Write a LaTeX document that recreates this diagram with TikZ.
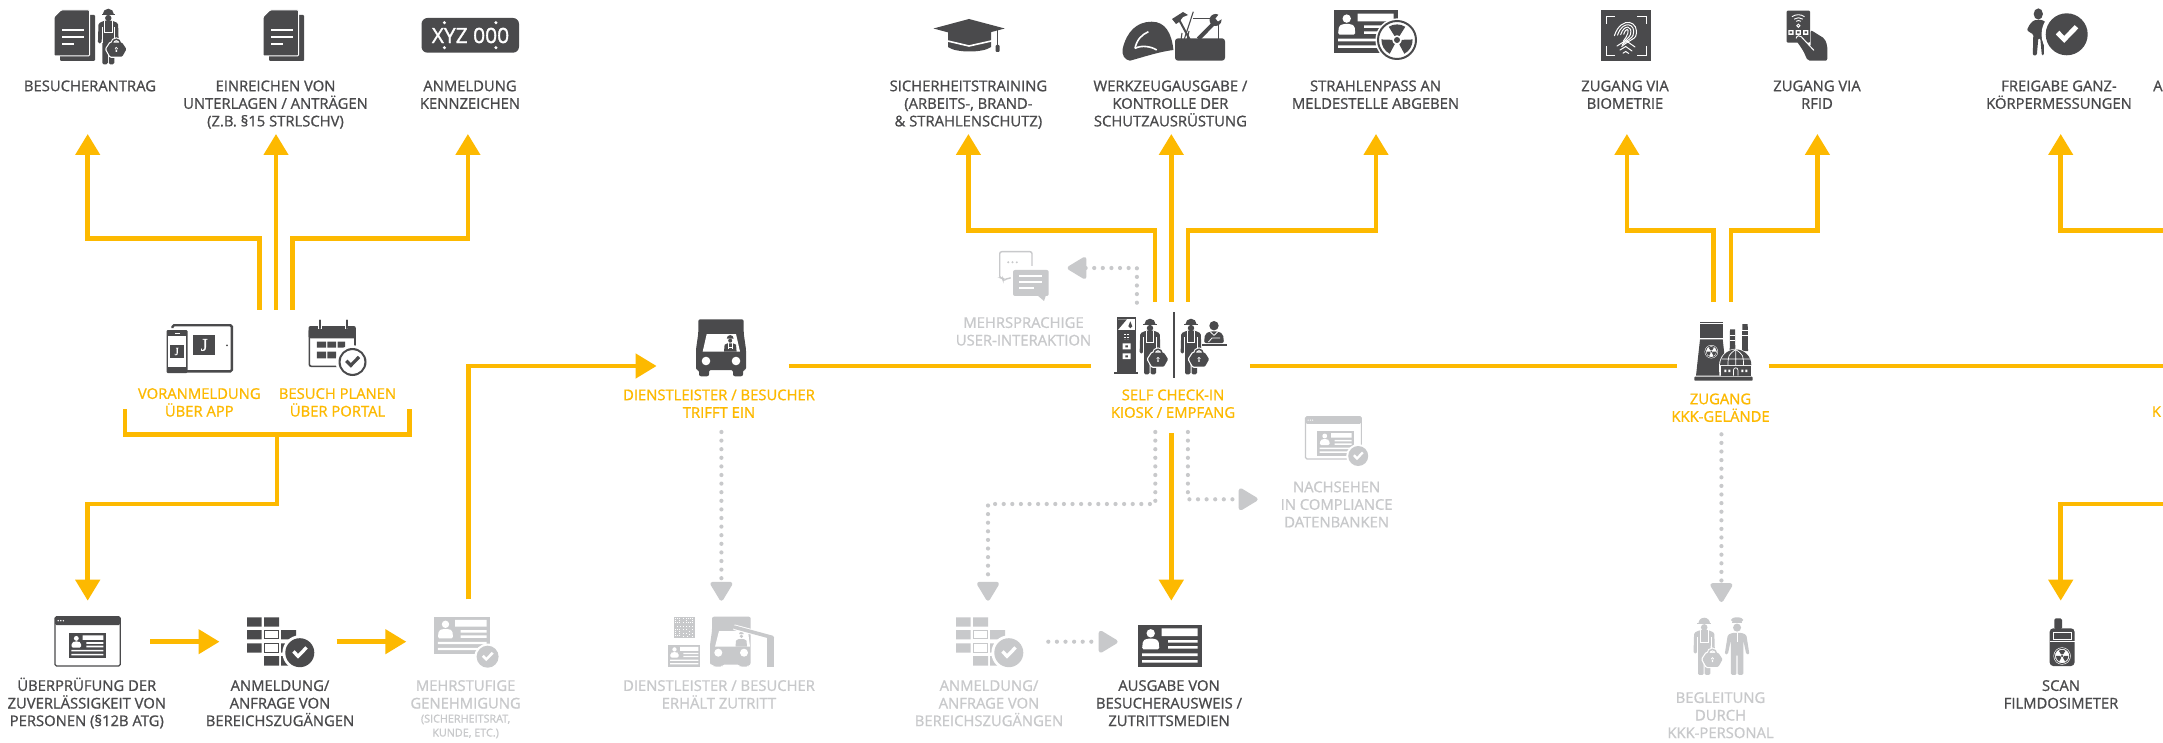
\documentclass[tikz,border=0pt]{standalone}
\usepackage{fontspec}
\usetikzlibrary{arrows.meta}
\setmainfont{Open Sans}
\newfontfamily\lblf{Open Sans}[FakeBold=1.0]
\newfontfamily\platef{Open Sans}[FakeBold=1.4]
\newfontfamily\jf{Liberation Serif}[FakeBold=0.5]
\definecolor{dark}{HTML}{4A4A4C}
\definecolor{grey}{HTML}{C8C9CB}
\definecolor{yel}{HTML}{FDB900}
\colorlet{ic}{dark}
\newcommand\Ico[5][1]{\begin{scope}\colorlet{ic}{#5}\pic[scale=#1] at (#3,#4) {#2};\end{scope}}
\newcommand\Lbl[5]{\node[lbl,text=#4] (#1) at (#2,#3) {\rule{0pt}{14pt}#5};}
\tikzset{
 lbl/.style={anchor=north,inner sep=0pt,align=center,yshift=9pt,font=\lblf\fontsize{14.8}{17.6}\selectfont},
 smalllbl/.style={anchor=north,inner sep=0pt,align=center,yshift=7pt,font=\lblf\fontsize{10.8}{14}\selectfont},
 flow/.style={draw=yel,line width=4.5pt},
 flowa/.style={flow,-{Triangle[length=21pt,width=24pt,fill=yel]}},
 dots/.style={draw=grey,line width=4.2pt,line cap=round,dash pattern=on 0pt off 8.6pt,-{Triangle[length=21pt,width=24pt,fill=grey,round=false]}},
 pics/sheets/.style={code={
  \fill[ic,rounded corners=1] (6,5) rectangle (41,51);
  \draw[white,line width=1,fill=ic,rounded corners=1] (7,0)--(35.5,0)--(35.5,46)--(0,46)--(0,7)--cycle;
  \draw[white,line width=2] (8,20)--(29.5,20) (8,27)--(29.5,27) (8,34)--(20,34);
 }},
 pics/lockbag/.style={code={
  \draw[white,line width=2.4,fill=white,rounded corners=1] (-8.6,2)--(-5,-3.5)--(5,-3.5)--(8.6,2)--(5,8.4)--(-5,8.4)--cycle;
  \draw[white,line width=3.6] (-3.4,-3) arc(180:360:3.4);
  \draw[ic,line width=1.5] (-3.4,-3) arc(180:360:3.4);
  \fill[ic,rounded corners=1] (-8.6,2)--(-5,-3.5)--(5,-3.5)--(8.6,2)--(5,8.4)--(-5,8.4)--cycle;
  \fill[white] (0,1.4) circle (1.3) (-.6,1.4) rectangle (.6,4.4);
 }},
 pics/worker/.style={code={
  \fill[ic] (4.4,6) arc(180:360:5.6) -- cycle;
  \fill[ic] (3.2,5.6) rectangle (16.8,6.6);
  \fill[ic] (10,9.8) circle (3.2);
  \fill[ic,rounded corners=1.4] (.2,15)--(6,12.4)--(14,12.4)--(19.8,15)--(20.4,35)--(16.8,35)--(16,22)--(16,56)--(10.5,56)--(10.5,38)--(9.5,38)--(9.5,56)--(4,56)--(4,22)--(3.2,35)--(-.4,35)--cycle;
  \draw[white,line width=.6] (6.4,12.4)--(6.4,24)--(13.6,24)--(13.6,12.4);
  \draw[white,line width=.6] (3.6,19)--(3.6,35) (16.4,19)--(16.4,35);
  \pic[scale=1.18] at (18,38.5) {lockbag};
 }},
 pics/guard/.style={code={
  \fill[ic] (12,2.6) ellipse (6 and 2.6);
  \fill[ic] (7,4.6) rectangle (17,6);
  \fill[ic] (12,10) circle (3.9);
  \fill[ic,rounded corners=1.4] (3,17)--(8,15)--(16,15)--(21,17)--(24,36)--(21,36)--(18,22)--(18,56)--(12.6,56)--(12.6,36)--(11.4,36)--(11.4,56)--(6,56)--(6,22)--(3,36)--(0,36)--cycle;
  \draw[white,line width=.7] (12,15)--(12,24);
 }},
 pics/chk/.style={code={
  \fill[white] (0,0) circle (12);
  \fill[ic] (0,0) circle (10);
  \fill[white] (-5.2,0)--(-3.5,-1.7)--(-1.2,.8)--(3.8,-4.4)--(5.5,-2.8)--(-1.2,4.1)--cycle;
 }},
 pics/chkring/.style={code={
  \fill[white] (0,0) circle (12);
  \fill[ic,even odd rule] (0,0) circle (10) circle (8.6);
  \fill[ic] (-5.2,0)--(-3.5,-1.7)--(-1.2,.8)--(3.8,-4.4)--(5.5,-2.8)--(-1.2,4.1)--cycle;
 }},
 pics/radi/.style={code={
  \fill[white] (0,0) circle (10.8);
  \fill[ic,even odd rule] (0,0) circle (10) circle (9);
  \foreach \a in {-90,30,150}{
   \fill[ic] (\a-32:2.4) -- (\a-32:7.8) arc(\a-32:\a+32:7.8) -- (\a+32:2.4) arc(\a+32:\a-32:2.4) -- cycle;}
  \fill[ic] (0,0) circle (1.5);
 }},
 pics/card/.style={code={
  \fill[ic] (0,0) rectangle (63.6,42.6);
  \fill[white] (12.7,8.6) circle (4.2);
  \fill[white,rounded corners=1.5] (4,24.6)--(5,16)--(9,14)--(16.5,14)--(20.5,16)--(21.4,24.6)--cycle;
  \fill[white] (23.7,3.6) rectangle (59.5,11.3) (30,15.3) rectangle (59.5,18) (30,21.3) rectangle (59.5,24)
   (4,28.6) rectangle (59.5,31.3) (4,35.3) rectangle (59.5,38);
 }},
 pics/browser/.style={code={
  \draw[ic,line width=1.2,rounded corners=1.5] (0,0) rectangle (65.3,49.3);
  \fill[ic,rounded corners=1.5] (0,0) rectangle (65.3,8.3);
  \fill[white] (3.2,4) circle (.8) (5.8,4) circle (.8) (8.4,4) circle (.8);
  \pic[scale=.577] at (14,16.7) {card};
 }},
 pics/wall/.style={code={
  \fill[ic] (0,0) rectangle (14.7,9.4) (17,0) rectangle (32,9.4)
   (0,12.7) rectangle (14.7,22) (34,12.7) rectangle (49,22)
   (0,26) rectangle (14.7,35.4) (34,26) rectangle (49,35.4)
   (17,38.7) rectangle (32,48.4) (34,38.7) rectangle (49,48.4);
  \draw[ic,line width=.9] (17.4,13.1) rectangle (31.6,21.6) (17.4,26.4) rectangle (31.6,35);
  \pic[scale=1.45] at (52.8,35.4) {chk};
 }},
 pics/truck/.style={code={
  \fill[ic,rounded corners=2] (2.3,0)--(47.7,0)--(47.7,14)--(50,30)--(50,50.7)--(47,50.7)--(47,57)--(37,57)--(37,50.7)--(13,50.7)--(13,57)--(3,57)--(3,50.7)--(0,50.7)--(0,30)--(2.3,14)--cycle;
  \fill[white] (10.7,14.7)--(40,14.7)--(44,32.3)--(6.7,32.3)--cycle;
  \fill[white] (10,41.7) circle (4.3) (40,41.7) circle (4.3);
  \fill[ic] (30.8,19.2) arc(180:360:3.4) -- cycle;
  \fill[ic] (34.2,21.4) circle (2);
  \fill[ic] (28,32.3)--(28.6,25.4)--(31.5,24)--(37,24)--(40,25.4)--(40.6,32.3)--cycle;
  \draw[white,line width=.6] (32,24)--(32,30) (36.6,24)--(36.6,30) (32,28)--(36.6,28);
 }},
 pics/kiosk/.style={code={
  \fill[ic] (0,54.4) rectangle (23.4,56.7);
  \fill[ic] (2.4,0) rectangle (21.7,54.4);
  \fill[white] (3.6,2)--(20.6,2)--(20.6,12.6)--(3.6,12.6)--cycle;
  \fill[ic] (3.6,2)--(12.6,2)--(3.6,12.6)--cycle;
  \fill[ic] (16,4)--(18,9)--(16,11)--(14,9)--cycle;
  \fill[white] (8.3,26) rectangle (16.3,32) (8.3,36) rectangle (16.3,41.7);
  \fill[ic] (11,28) rectangle (13.6,30) (11,38) rectangle (13.6,40);
  \foreach \i in {9.5,11,12.5,14}{\draw[white,line width=.5,dotted] (\i,17)--(\i,22);}
 }},
 pics/reception/.style={code={
  \fill[ic] (10,4.7) circle (4.7);
  \fill[ic,rounded corners=2] (0,22)--(1,13)--(6,10.4)--(14,10.4)--(19,13)--(20,22)--cycle;
  \draw[white,line width=.8] (6.5,11)--(10,14.4)--(13.5,11) (4.5,21)--(8,17)--(16,17);
  \fill[ic] (-2.3,23) rectangle (22.7,24.6);
 }},
 pics/reactor/.style={code={
  \fill[ic,rounded corners=.8] (0,54.7) rectangle (58.4,58.7);
  \fill[ic] (5.7,0) rectangle (28.4,1.2);
  \fill[ic] (5.7,2.4) rectangle (28.4,16.3);
  \fill[ic] (5.7,17.4)--(28.4,17.4)--(32.4,53.6)--(1.7,53.6)--cycle;
  \pic[scale=.62] at (17,29.7) {radi};
  \fill[ic] (35.7,7.3)--(40.7,7.3)--(41,28)--(35.4,28)--cycle;
  \fill[ic] (48,2)--(53.4,2)--(53.7,29)--(47.7,29)--cycle;
  \draw[white,line width=.8] (35.4,13)--(41,13) (35.4,18)--(41,18) (47.7,8.5)--(53.7,8.5) (47.7,13)--(53.7,13);
  \fill[white] (24.8,43.4) arc(180:360:16.6 and 16.6) -- (58,53.6)--(25,53.6)--cycle;
  \fill[ic] (25.8,43) arc(180:360:15.6) -- cycle;
  \fill[ic] (26.4,44) rectangle (56.4,53.6);
  \draw[white,line width=.7] (41.4,27.5)--(41.4,43) (41.4,27.5) .. controls (34,33) .. (33.6,43) (41.4,27.5) .. controls (49,33) .. (49.2,43) (27,37) -- (56,37);
  \fill[white] (30,47.5) rectangle (32,50) (34,47.5) rectangle (36,50) (47,47.5) rectangle (49,50) (51,47.5) rectangle (53,50);
  \draw[white,line width=.7] (39.2,53.6)--(39.2,48) arc(180:360:2.2)--(43.6,53.6);
 }},
 pics/grad/.style={code={
  \fill[ic] (14.5,12)--(14.5,28) .. controls (22,34) and (50,34) .. (57.5,28) -- (57.5,12)--cycle;
  \draw[white,line width=1.6] (12,21.5)--(35.5,27)--(60,21.5);
  \fill[ic] (0,9.5)--(35.5,0)--(71.2,9.5)--(35.5,19)--cycle;
  \draw[ic,line width=1.6] (64,10)--(64,29);
  \fill[ic,rounded corners=1] (62,26) rectangle (66,33);
 }},
 pics/helmet/.style={code={
  \fill[ic] (1,27) .. controls (5,10) and (15,0) .. (30,0) .. controls (44,0) and (50,12) .. (51.7,28.3) .. controls (38,30) and (26,34) .. (8.3,39) .. controls (3,38) and (0,34) .. cycle;
  \draw[white,line width=1.6] (13.3,26.7) .. controls (15,18) and (20,13) .. (26.7,10);
  \draw[white,line width=1.6] (13.3,26.7) .. controls (20,23) and (30,25) .. (35,28.3);
 }},
 pics/tools/.style={code={
  \draw[ic,line width=1.6] (18.3,3.7)--(43.3,3.7)--(43.3,25);
  \draw[ic,line width=2] (15,25)--(3.3,3.3);
  \fill[ic] (-3,4)--(8,-3)--(13,0)--(8,2)--(4,7)--(1,9)--cycle;
  \draw[ic,line width=1.1] (9,25)--(18.3,-3.3);
  \draw[ic,line width=1.1] (12,25)--(14,16) (6,25)--(7,18);
  \draw[white,line width=6] (23.3,24)--(41,6);
  \draw[ic,line width=4] (23.3,24)--(41,6);
  \fill[ic] (40.5,5) circle (6);
  \fill[white] (40.5,3.5)--(45,-2)--(48,3)--(43,6.5)--cycle;
  \fill[ic,rounded corners=3] (0,23.3) rectangle (50,45.7);
 }},
 pics/bubbles/.style={code={
  \draw[ic,line width=1.4,rounded corners=2] (33,15)--(33,.7)--(.7,.7)--(.7,27)--(4,27)--(4,30)--(9,27)--(14,27);
  \fill[ic] (9.2,11.3) circle (1.1) (13.5,11.3) circle (1.1) (17.8,11.3) circle (1.1);
  \fill[white] (12,17) rectangle (51,47);
  \fill[ic,rounded corners=2] (14,19) rectangle (49.7,45);
  \fill[ic] (38,44)--(47,44)--(45,50)--cycle;
  \draw[white,line width=2] (20.4,25) --(43.3,25) (20.4,31)--(43.3,31) (20.4,36.6)--(35,36.6);
 }},
 pics/fingerprint/.style={code={
  \fill[ic] (0,0) rectangle (50,50.7);
  \draw[white,line width=.9] (5,14)--(5,6)--(14,6) (36,6)--(45,6)--(45,14) (45,36)--(45,45)--(36,45) (14,45)--(5,45)--(5,36);
  \begin{scope}[rotate around={-18:(25,23)}]
  \foreach \r in {1.8,4.6,7.4,10.2}{
   \draw[white,line width=1,line cap=round] (25-\r,24+.5*\r) .. controls (25-\r,20-1.25*\r) and (25+\r,20-1.25*\r) .. (25+\r,23) .. controls (25+\r,26) and (25+.5*\r,29) .. (25,30+.7*\r);}
  \end{scope}
  \draw[white,line width=1,line cap=round] (16,36)--(24.7,30.5)--(34,37) (19,40)--(24.7,36.5)--(31,41) (22,43.2)--(24.7,41.5)--(27.8,43.5);
 }},
 pics/rfid/.style={code={
  \fill[ic,rounded corners=1] (0,0) rectangle (23.3,32);
  \draw[white,line width=.9] (5.2,6) arc(235:305:11) (7.4,8.4) arc(235:305:7.6) (9.4,10.6) arc(235:305:4.2);
  \draw[white,line width=.9] (11.6,15) circle (1.6);
  \fill[white] (1.6,19.4) rectangle (6.8,24.2) (9,19.4) rectangle (14.2,24.2) (16.4,19.4) rectangle (21.6,24.2);
  \fill[ic] (3,20.8) rectangle (5.4,22.8) (10.4,20.8) rectangle (12.8,22.8) (17.8,20.8) rectangle (20.2,22.8);
  \fill[ic,rounded corners=2] (24,19.3)--(38,28)--(40.6,35)--(40.6,50)--(21,50)--(16.5,40)--(9,29)--(11,26)--(14,26.5)--(24,36)--cycle;
  \draw[white,line width=1,line cap=round] (9.5,27.5) .. controls (10,24.5) and (13,24.5) .. (14.5,26) -- (27,39.5);
 }},
 pics/person/.style={code={
  \fill[ic] (11.5,5.7) ellipse (4.6 and 5.6);
  \fill[ic,rounded corners=1.2] (7,12)--(15,11.5)--(19,14)--(21,28)--(17,30)--(17,47)--(15,47)--(13.5,30)--(11.5,30)--(10,47)--(6,47)--(6.5,26)--(3,24)--(0,22)--(3,16)--cycle;
  \pic[scale=2.1] at (39.9,26) {chk};
 }},
 pics/dosim/.style={code={
  \fill[ic,rounded corners=1.5] (4.6,0) rectangle (12.3,11);
  \fill[ic,rounded corners=3.5] (0,10) rectangle (24.8,47.7);
  \draw[white,line width=.9] (3.8,14.6) rectangle (21.6,21);
  \draw[white,line width=1] (0,23.4)--(24.8,23.4);
  \pic[scale=.8] at (12.4,37.7) {radi};
 }},
 pics/tablet/.style={code={
  \fill[ic] (17,0) rectangle (30,1.5);
  \draw[ic,line width=2.4,rounded corners=1.5] (6,4) -- (6,1.2) -- (65.3,1.2) -- (65.3,47.4) -- (6,47.4);
  \fill[ic] (26.5,11) rectangle (48.7,31);
  \fill[ic] (60.4,21.4) circle (1);
  \fill[ic,rounded corners=1.2] (0,6) rectangle (21,49);
  \fill[white] (1.7,12) rectangle (19.3,43);
  \fill[ic] (3.6,21) rectangle (17,34);
  \draw[white,line width=1] (8,9)--(13,9);
 }},
 pics/calendar/.style={code={
  \fill[ic,rounded corners=2] (0,6.7) rectangle (47.3,19);
  \draw[ic,line width=1.6,rounded corners=2] (.8,10) rectangle (46.5,47);
  \draw[white,line width=3.2] (11.5,0)--(11.5,10) (38.1,0)--(38.1,10);
  \draw[ic,line width=1.8,line cap=round] (11.5,1)--(11.5,9) (38.1,1)--(38.1,9);
  \fill[ic] (8.3,22.4) rectangle (17.5,28.4) (18.9,22.4) rectangle (27.5,28.4) (29,22.4) rectangle (36.5,28.4)
    (8.3,32.4) rectangle (17.5,39) (18.9,32.4) rectangle (27.5,39);
 }},
 pics/qr/.style={code={
  \fill[ic] (0,0) rectangle (21.5,21.3);
  \foreach \p/\q in {1/1,3/1,5/1,1/3,5/3,1/5,3/5,5/5,12/1,14/1,16/1,18/1,12/3,18/3,12/5,14/5,16/5,18/5,1/12,3/12,5/12,1/14,5/14,1/16,5/16,1/18,3/18,5/18,9/1,9/5,9/9,12/9,15/9,18/9,3/9,6/9,9/12,12/12,15/14,18/12,9/16,12/16,15/17,18/16,9/19,13/19,18/19}{
   \fill[white] (\p,\q) rectangle +(1.5,1.5);}
 }},
 pics/carbar/.style={code={
  \fill[ic,rounded corners=2] (2,0)--(40.7,0)--(40.7,48)--(38,48)--(38,50)--(30,50)--(30,48)--(12,48)--(12,50)--(4,50)--(4,48)--(0,48)--(0,28)--(2,14)--cycle;
  \fill[white] (9,14.3)--(38,14.3)--(40,30)--(5,30)--cycle;
  \fill[white] (8.3,36) circle (4) (34,36) circle (4);
  \fill[ic] (29,17.5) arc(180:360:2.4) -- cycle;
  \fill[ic] (31.4,19.6) circle (1.8);
  \fill[ic] (25.5,30)--(26,24)--(28.5,22.4)--(34,22.4)--(36.5,24)--(37,30)--cycle;
  \draw[white,line width=5.6] (24,10.5)--(63.5,21)--(63.5,22);
  \fill[ic] (56.7,21) rectangle (64,50);
  \draw[ic,line width=3.6,line cap=round] (24.5,10.5)--(62.5,20.8);
 }}
}
\begin{document}
\begin{tikzpicture}[x=1pt,y=-1pt]
\clip (0,0) rectangle (2163,743);
\fill[white] (0,0) rectangle (2163,743);

% connector end points
\coordinate (a1s) at (259.4,310); \coordinate (a1j) at (259.4,238.7); \coordinate (a1k) at (87.7,238.7); \coordinate (a1e) at (87.7,134);
\coordinate (a2s) at (276,310); \coordinate (a2e) at (276,134);
\coordinate (a3s) at (292.5,310); \coordinate (a3j) at (292.5,238.7); \coordinate (a3k) at (467.9,238.7); \coordinate (a3e) at (467.9,134);
\coordinate (brl) at (125,409); \coordinate (brlb) at (125,434.7); \coordinate (brrb) at (409.6,434.7); \coordinate (brr) at (409.6,409);
\coordinate (st) at (276.9,434.7); \coordinate (stj) at (276.9,504); \coordinate (stk) at (87.7,504); \coordinate (ste) at (87.7,600.7);
\coordinate (h1s) at (150,641.7); \coordinate (h1e) at (219.5,641.7);
\coordinate (h2s) at (336.5,641.7); \coordinate (h2e) at (406.3,641.7);
\coordinate (v1s) at (468.3,599.3); \coordinate (v1j) at (468.3,366); \coordinate (v1e) at (656.6,366);
\coordinate (m1s) at (788.9,366); \coordinate (m1e) at (1091,366);
\coordinate (m2s) at (1249.8,366); \coordinate (m2e) at (1677,366);
\coordinate (m3s) at (1768.7,366); \coordinate (m3e) at (2165,366);
\coordinate (b1s) at (1155,301.7); \coordinate (b1j) at (1155,230.3); \coordinate (b1k) at (968.4,230.3); \coordinate (b1e) at (968.4,134);
\coordinate (b2s) at (1171.3,301.7); \coordinate (b2e) at (1171.3,134);
\coordinate (b3s) at (1187.9,301.7); \coordinate (b3j) at (1187.9,230.3); \coordinate (b3k) at (1376,230.3); \coordinate (b3e) at (1376,134);
\coordinate (d1s) at (1136.9,302.7); \coordinate (d1j) at (1136.9,268); \coordinate (d1e) at (1067.6,268);
\coordinate (k1s) at (1171.3,433); \coordinate (k1e) at (1171.3,600.7);
\coordinate (d2s) at (1155.3,432); \coordinate (d2j) at (1155.3,504); \coordinate (d2k) at (988,504); \coordinate (d2e) at (988,600.7);
\coordinate (d3s) at (1187.9,432); \coordinate (d3j) at (1187.9,499.3); \coordinate (d3e) at (1257.6,499.3);
\coordinate (d4s) at (721.4,432); \coordinate (d4e) at (721.4,600.7);
\coordinate (d5s) at (1048.3,641.7); \coordinate (d5e) at (1117.6,641.7);
\coordinate (c1s) at (1713.6,301.7); \coordinate (c1j) at (1713.6,230.3); \coordinate (c1k) at (1626.9,230.3); \coordinate (c1e) at (1626.9,134);
\coordinate (c2s) at (1731,301.7); \coordinate (c2j) at (1731,230.3); \coordinate (c2k) at (1817.4,230.3); \coordinate (c2e) at (1817.4,134);
\coordinate (c3s) at (2165,230.3); \coordinate (c3k) at (2060.7,230.3); \coordinate (c3e) at (2060.7,134);
\coordinate (d6s) at (1721.4,434.3); \coordinate (d6e) at (1721.4,602);
\coordinate (c4s) at (2165,504); \coordinate (c4k) at (2060.7,504); \coordinate (c4e) at (2060.7,600.7);

% yellow connectors
\draw[flowa] (a1s)--(a1j)--(a1k)--(a1e);
\draw[flowa] (a2s)--(a2e);
\draw[flowa] (a3s)--(a3j)--(a3k)--(a3e);
\draw[flow] (brl)--(brlb)--(brrb)--(brr);
\draw[flowa] (st)--(stj)--(stk)--(ste);
\draw[flowa] (h1s)--(h1e);
\draw[flowa] (h2s)--(h2e);
\draw[flowa] (v1s)--(v1j)--(v1e);
\draw[flow] (m1s)--(m1e);
\draw[flow] (m2s)--(m2e);
\draw[flow] (m3s)--(m3e);
\draw[flowa] (b1s)--(b1j)--(b1k)--(b1e);
\draw[flowa] (b2s)--(b2e);
\draw[flowa] (b3s)--(b3j)--(b3k)--(b3e);
\draw[flowa] (k1s)--(k1e);
\draw[flowa] (c1s)--(c1j)--(c1k)--(c1e);
\draw[flowa] (c2s)--(c2j)--(c2k)--(c2e);
\draw[flowa] (c3s)--(c3k)--(c3e);
\draw[flowa] (c4s)--(c4k)--(c4e);

% grey dotted connectors
\draw[dots] (d1s)--(d1j)--(d1e);
\draw[dots] (d2s)--(d2j)--(d2k)--(d2e);
\draw[dots] (d3s)--(d3j)--(d3e);
\draw[dots] (d4s)--(d4e);
\draw[dots] (d5s)--(d5e);
\draw[dots] (d6s)--(d6e);

% top row icons
\Ico{sheets}{54}{10}{dark}
\Ico{worker}{98.3}{8.3}{dark}
\Ico{sheets}{263}{10}{dark}
\fill[dark,rounded corners=6] (421.5,18) rectangle (519,52.7);
\node[inner sep=0pt,text=white,font=\platef\fontsize{21}{21}\selectfont] (plate) at (470.5,35.5) {XYZ 000};
\fill[white] (444.4,22.7) circle (1.7) (444.4,47.7) circle (1.7) (495.9,22.7) circle (1.7) (495.9,47.7) circle (1.7);
\Ico{grad}{933.5}{19}{dark}
\Ico{helmet}{1121.7}{21.7}{dark}
\Ico{tools}{1175}{15}{dark}
\Ico{card}{1334}{10}{dark}
\Ico[2]{radi}{1397}{40}{dark}
\Ico{fingerprint}{1601}{10}{dark}
\Ico{rfid}{1786.7}{10.7}{dark}
\Ico{person}{2026.8}{8.3}{dark}

% middle row icons
\Ico{tablet}{166.5}{324}{dark}
\node[inner sep=0pt,text=white,font=\jf\fontsize{18}{18}\selectfont] (jb) at (204.2,345) {J};
\node[inner sep=0pt,text=white,font=\jf\fontsize{11}{11}\selectfont] (js) at (176.7,351.5) {J};
\Ico{calendar}{308.5}{319.3}{dark}
\Ico[1.4]{chkring}{352.5}{362}{dark}
\Ico{truck}{696}{319.3}{dark}
\Ico{bubbles}{999}{251}{grey}
\Ico{kiosk}{1114.3}{317.3}{dark}
\Ico{worker}{1140}{318.3}{dark}
\fill[dark] (1172.8,311.7) rectangle (1175.3,378.3);
\Ico{worker}{1181}{318.3}{dark}
\Ico{reception}{1204}{321}{dark}
\Ico{reactor}{1694.3}{322}{dark}
\Ico[.857]{browser}{1305.4}{416.7}{grey}
\Ico{chk}{1358.2}{456}{grey}

% bottom row icons
\Ico{browser}{55}{616.7}{dark}
\Ico{wall}{247}{617.3}{dark}
\Ico[.88]{card}{434.3}{616.7}{grey}
\Ico[1.1]{chk}{487.6}{656.7}{grey}
\Ico{qr}{673.5}{616.7}{grey}
\Ico[.51]{card}{668}{645}{grey}
\Ico{carbar}{710}{616.7}{grey}
\Ico{wall}{956}{617.3}{grey}
\Ico{card}{1138}{624.7}{dark}
\Ico[1.03]{worker}{1693.9}{617.3}{grey}
\Ico[1.03]{guard}{1724.7}{617.3}{grey}
\Ico{dosim}{2049.7}{618.3}{dark}

% labels
\Lbl{l1}{90}{86}{dark}{BESUCHERANTRAG}
\Lbl{l2}{275.5}{86}{dark}{EINREICHEN VON\\UNTERLAGEN / ANTRÄGEN\\(Z.B. §15 STRLSCHV)}
\Lbl{l3}{470}{86}{dark}{ANMELDUNG\\KENNZEICHEN}
\Lbl{l4}{968.4}{86}{dark}{SICHERHEITSTRAINING\\(ARBEITS-, BRAND-\\\& STRAHLENSCHUTZ)}
\Lbl{l5}{1170.4}{86}{dark}{WERKZEUGAUSGABE /\\KONTROLLE DER\\SCHUTZAUSRÜSTUNG}
\Lbl{l6}{1375.5}{86}{dark}{STRAHLENPASS AN\\MELDESTELLE ABGEBEN}
\Lbl{l7}{1625}{86}{dark}{ZUGANG VIA\\BIOMETRIE}
\Lbl{l8}{1817}{86}{dark}{ZUGANG VIA\\RFID}
\Lbl{l9}{2059}{86}{dark}{FREIGABE GANZ-\\KÖRPERMESSUNGEN}
\node[lbl,text=dark,anchor=north west] (l10) at (2153,86) {\rule{0pt}{14pt}A};
\Lbl{m1}{199.3}{393.7}{yel}{VORANMELDUNG\\ÜBER APP}
\Lbl{m2}{337.5}{393.7}{yel}{BESUCH PLANEN\\ÜBER PORTAL}
\Lbl{m3}{719}{395}{yel}{DIENSTLEISTER / BESUCHER\\TRIFFT EIN}
\Lbl{m4}{1173}{395}{yel}{SELF CHECK-IN\\KIOSK / EMPFANG}
\Lbl{m5}{1720.5}{399}{yel}{ZUGANG\\KKK-GELÄNDE}
\node[lbl,text=yel,anchor=north west] (m6) at (2151.7,411.7) {\rule{0pt}{14pt}K};
\Lbl{m7}{1023.5}{322.7}{grey}{MEHRSPRACHIGE\\USER-INTERAKTION}
\Lbl{m8}{1336.6}{487}{grey}{NACHSEHEN\\IN COMPLIANCE\\DATENBANKEN}
\Lbl{b1}{86.8}{685.7}{dark}{ÜBERPRÜFUNG DER\\ZUVERLÄSSIGKEIT VON\\PERSONEN (§12B ATG)}
\Lbl{b2}{280}{685.7}{dark}{ANMELDUNG/\\ANFRAGE VON\\BEREICHSZUGÄNGEN}
\Lbl{b3}{465.6}{685.7}{grey}{MEHRSTUFIGE\\GENEHMIGUNG}
\node[smalllbl,text=grey] (b3s) at (465.6,718.3) {\rule{0pt}{11pt}(SICHERHEITSRAT,\\KUNDE, ETC.)};
\Lbl{b4}{719}{685.7}{grey}{DIENSTLEISTER / BESUCHER\\ERHÄLT ZUTRITT}
\Lbl{b5}{989}{685.7}{grey}{ANMELDUNG/\\ANFRAGE VON\\BEREICHSZUGÄNGEN}
\Lbl{b6}{1169}{685.7}{dark}{AUSGABE VON\\BESUCHERAUSWEIS /\\ZUTRITTSMEDIEN}
\Lbl{b7}{1720.5}{697.7}{grey}{BEGLEITUNG\\DURCH\\KKK-PERSONAL}
\Lbl{b8}{2061}{685.7}{dark}{SCAN\\FILMDOSIMETER}
\end{tikzpicture}
\end{document}
